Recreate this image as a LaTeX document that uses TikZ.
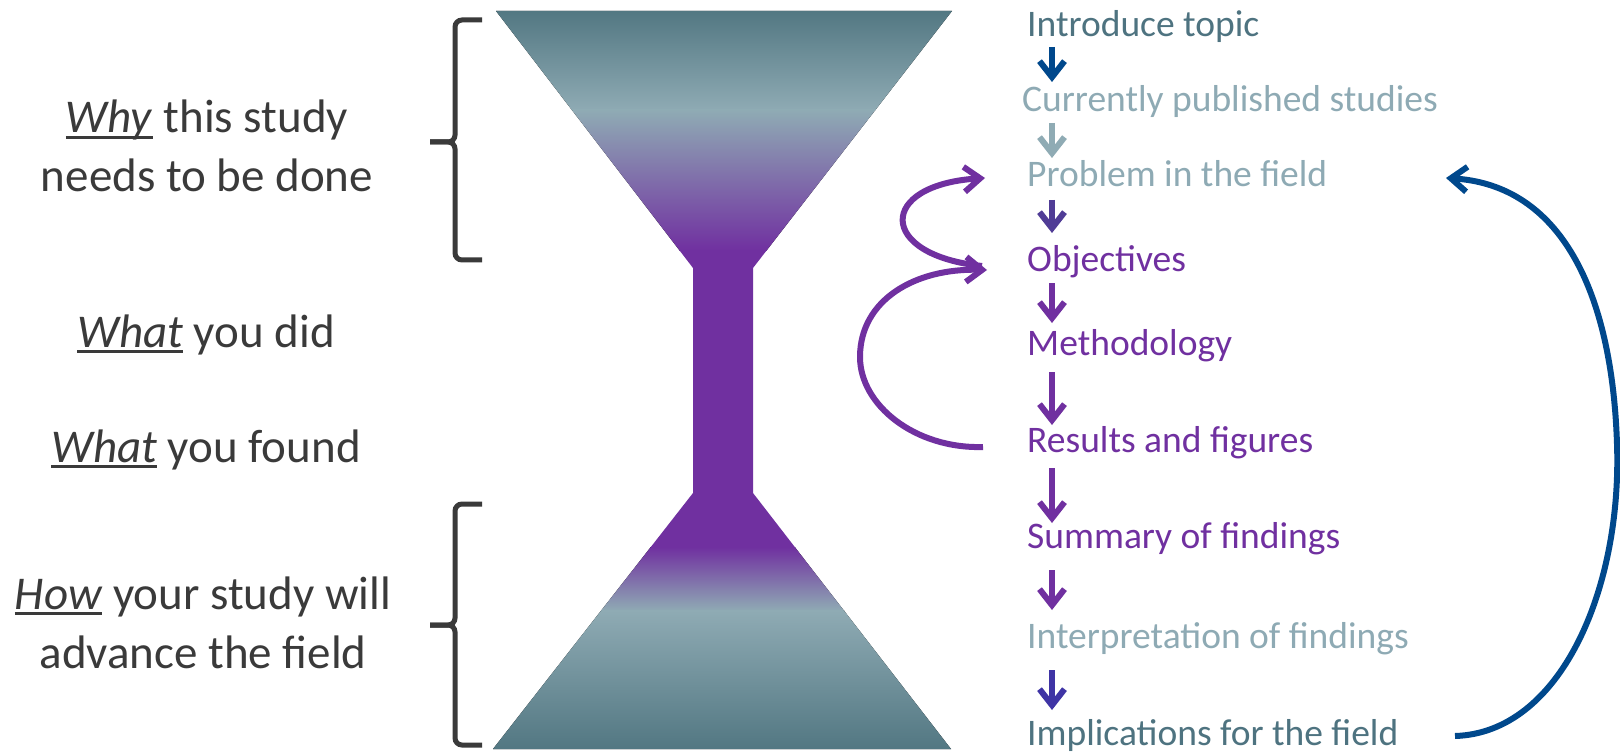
\documentclass[tikz,border=0pt]{standalone}
\usepackage{fontspec}
\setmainfont{Carlito}
\usetikzlibrary{arrows.meta}
\definecolor{tealdark}{RGB}{82,119,130}
\definecolor{teallight}{RGB}{143,171,180}
\definecolor{funpurple}{RGB}{112,48,160}
\definecolor{txtteal}{RGB}{78,115,128}
\definecolor{txtlight}{RGB}{142,170,180}
\definecolor{txtgray}{RGB}{58,58,58}
\definecolor{arrblue}{RGB}{0,72,140}
\definecolor{arrindigo}{RGB}{80,60,150}
\definecolor{arrindigo2}{RGB}{63,52,165}
\newsavebox\ulbox
\newcommand{\myul}[1]{\sbox\ulbox{#1}\rlap{\rule[-6pt]{\wd\ulbox}{3pt}}\usebox\ulbox}
\begin{document}
\begin{tikzpicture}[x=1pt,y=-1pt,
  lefttxt/.style={font=\fontsize{47}{59}\selectfont, text=txtgray, align=center, inner sep=0, anchor=base},
  righttxt/.style={font=\fontsize{37.5}{45}\selectfont, anchor=base west, inner sep=0},
  flow/.style={line width=6pt, -{Straight Barb[length=16pt,width=25pt]}},
  brace/.style={line width=5pt, draw=txtgray, rounded corners=7pt},
]
\useasboundingbox[fill=white] (0,0) rectangle (1620,754);

% funnel
\begin{scope}
\clip (496,11) -- (952,11) -- (753,268) -- (753,493) -- (951,749) -- (493,749) -- (693,493) -- (693,268) -- cycle;
\fill[top color=tealdark, bottom color=teallight] (480,10) rectangle (970,111);
\fill[top color=teallight, bottom color=funpurple] (480,110) rectangle (970,251);
\fill[funpurple] (480,250) rectangle (970,548);
\fill[top color=funpurple, bottom color=teallight] (480,547) rectangle (970,611);
\fill[top color=teallight, bottom color=tealdark] (480,610) rectangle (970,750);
\end{scope}

% braces
\draw[brace] (430,142) -- (455,142) -- (455,20) -- (482,20);
\draw[brace] (430,142) -- (455,142) -- (455,260) -- (482,260);
\draw[brace] (430,625) -- (455,625) -- (455,504) -- (482,504);
\draw[brace] (430,625) -- (455,625) -- (455,745) -- (482,745);

% left texts (base anchor = baseline of last line)
\node[lefttxt] (why) at (207,192) {\myul{\textit{Why}} this study\\needs to be done};
\node[lefttxt] (did) at (206,347) {\myul{\textit{What}} you did};
\node[lefttxt] (found) at (206,462) {\myul{\textit{What}} you found};
\node[lefttxt] (how) at (203,668) {\myul{\textit{How}} your study will\\advance the field};

% right texts
\node[righttxt, text=txtteal] (t1) at (1027,37) {Introduce topic};
\node[righttxt, text=txtlight] (t2) at (1022,112) {Currently published studies};
\node[righttxt, text=txtlight] (t3) at (1027,187) {Problem in the field};
\node[righttxt, text=funpurple] (t4) at (1027,272) {Objectives};
\node[righttxt, text=funpurple] (t5) at (1027,355) {Methodology};
\node[righttxt, text=funpurple] (t6) at (1027,452) {Results and figures};
\node[righttxt, text=funpurple] (t7) at (1027,548) {Summary of findings};
\node[righttxt, text=txtlight] (t8) at (1027,648) {Interpretation of findings};
\node[righttxt, text=txtteal] (t9) at (1027,745) {Implications for the field};

% straight arrows
\coordinate (a1s) at (1052,47);  \coordinate (a1e) at (1052,82);
\coordinate (a2s) at (1052,123); \coordinate (a2e) at (1052,158);
\coordinate (a3s) at (1052,200); \coordinate (a3e) at (1052,233);
\coordinate (a4s) at (1052,283); \coordinate (a4e) at (1052,323);
\coordinate (a5s) at (1052,372); \coordinate (a5e) at (1052,425);
\coordinate (a6s) at (1052,468); \coordinate (a6e) at (1052,523);
\coordinate (a7s) at (1052,570); \coordinate (a7e) at (1052,610);
\coordinate (a8s) at (1052,670); \coordinate (a8e) at (1052,710);
\draw[flow, draw=arrblue] (a1s) -- (a1e);
\draw[flow, draw=teallight] (a2s) -- (a2e);
\draw[flow, draw=arrindigo] (a3s) -- (a3e);
\draw[flow, draw=funpurple] (a4s) -- (a4e);
\draw[flow, draw=funpurple] (a5s) -- (a5e);
\draw[flow, draw=funpurple] (a6s) -- (a6e);
\draw[flow, draw=funpurple] (a7s) -- (a7e);
\draw[flow, draw=arrindigo2] (a8s) -- (a8e);

% loops
\coordinate (objL) at (982,266);
\coordinate (probL) at (985,178);
\coordinate (resL) at (983,447);
\coordinate (objT) at (987,270);
\draw[flow, draw=funpurple] (objL) .. controls (877,255) and (877,185) .. (probL);
\draw[flow, draw=funpurple] (resL) .. controls (915,449) and (860,405) .. (860,357)
   .. controls (860,300) and (915,268) .. (objT);

% feedback arc
\coordinate (implR) at (1455,736);
\coordinate (probR) at (1446,178);
\draw[flow, draw=arrblue] (implR) .. controls (1560,733) and (1622,590) .. (1617,444)
   .. controls (1612,290) and (1560,185) .. (probR);
\end{tikzpicture}
\end{document}
